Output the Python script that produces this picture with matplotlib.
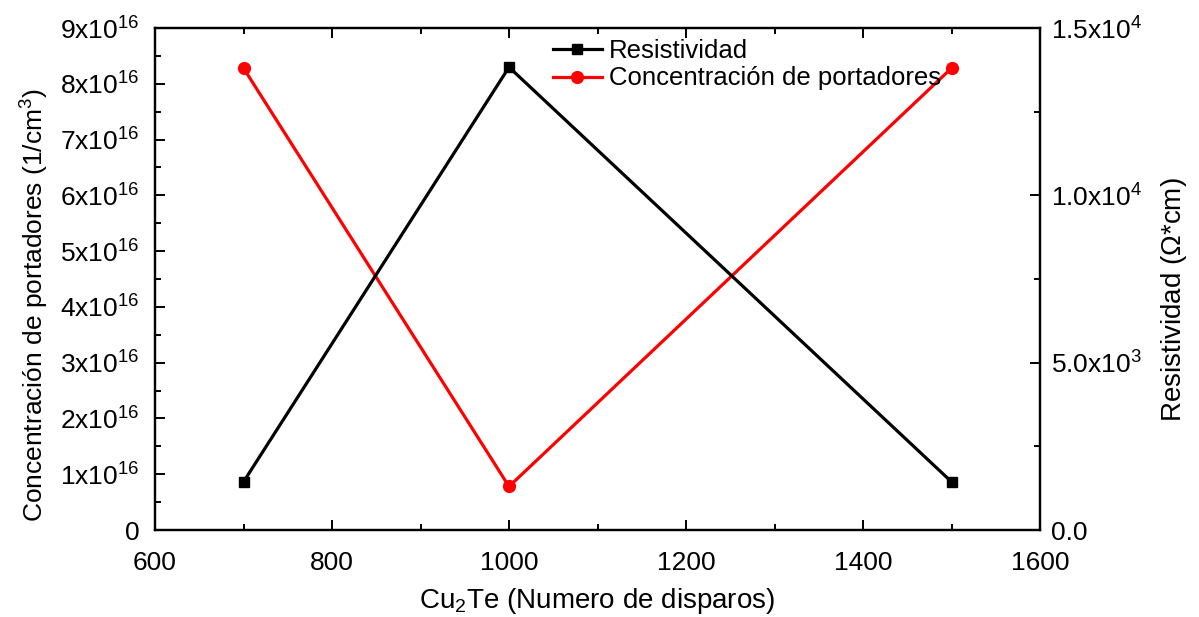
import matplotlib
matplotlib.use("Agg")
import matplotlib.pyplot as plt
from matplotlib.ticker import FixedLocator, FixedFormatter, MultipleLocator

plt.rcParams["font.family"] = ["Liberation Sans", "DejaVu Sans"]
plt.rcParams["mathtext.fontset"] = "custom"
plt.rcParams["mathtext.rm"] = "Liberation Sans"
plt.rcParams["mathtext.it"] = "Liberation Sans"

# data
shots = [700, 1000, 1500]
concentracion = [8.28e16, 0.78e16, 8.28e16]  # 1/cm^3, left axis
resistividad = [1.44e3, 1.383e4, 1.44e3]     # ohm*cm, right axis

left_ticks = [0, 1e16, 2e16, 3e16, 4e16, 5e16, 6e16, 7e16, 8e16, 9e16]
left_labels = ["0"] + ["%dx10$^{16}$" % i for i in range(1, 10)]
right_ticks = [0, 5e3, 1e4, 1.5e4]
right_labels = ["0.0", "5.0x10$^{3}$", "1.0x10$^{4}$", "1.5x10$^{4}$"]

FS = 19

fig = plt.figure(figsize=(11.99, 6.17), dpi=100)
ax = fig.add_axes([0.1293, 0.141, 0.7381, 0.8136])
ax2 = ax.twinx()

l2, = ax.plot(shots, concentracion, color="red", lw=2.3, marker="o", ms=8.5,
              label="Concentración de portadores")
l1, = ax2.plot(shots, resistividad, color="black", lw=2.3, marker="s", ms=7,
               label="Resistividad")

ax.set_xlim(600, 1600)
ax.set_ylim(0, 9e16)
ax2.set_ylim(0, 1.5e4)

ax.xaxis.set_major_locator(MultipleLocator(200))
ax.xaxis.set_minor_locator(MultipleLocator(100))
ax.yaxis.set_major_locator(FixedLocator(left_ticks))
ax.yaxis.set_major_formatter(FixedFormatter(left_labels))
ax.yaxis.set_minor_locator(MultipleLocator(0.5e16))
ax2.yaxis.set_major_locator(FixedLocator(right_ticks))
ax2.yaxis.set_major_formatter(FixedFormatter(right_labels))
ax2.yaxis.set_minor_locator(MultipleLocator(2.5e3))

for a in (ax, ax2):
    for s in a.spines.values():
        s.set_linewidth(1.6)
    a.tick_params(which="major", direction="in", length=7, width=1.4,
                  labelsize=FS)
    a.tick_params(which="minor", direction="in", length=4, width=1.4)
ax.tick_params(axis="x", which="both", top=True)
ax.tick_params(axis="x", which="major", pad=15)
ax.tick_params(axis="y", which="both", right=False)
ax.tick_params(axis="y", which="major", pad=11)
ax2.tick_params(axis="y", which="major", pad=8)

ax.set_xlabel("Cu$_2$Te (Numero de disparos)", fontsize=20, labelpad=8)
ax.set_ylabel("Concentración de portadores (1/cm$^3$)", fontsize=19)
ax.yaxis.set_label_coords(-0.118, 0.448)
ax2.set_ylabel("Resistividad ($\\Omega$*cm)", fontsize=20)
ax2.yaxis.set_label_coords(1.134, 0.458)

ax.legend(handles=[l1, l2], loc="upper left", bbox_to_anchor=(0.432, 1.008),
          frameon=False, fontsize=18.5, handlelength=1.9, borderaxespad=0.2,
          labelspacing=0.12, handletextpad=0.3)

fig.savefig("out.png", dpi=100, facecolor="white")
